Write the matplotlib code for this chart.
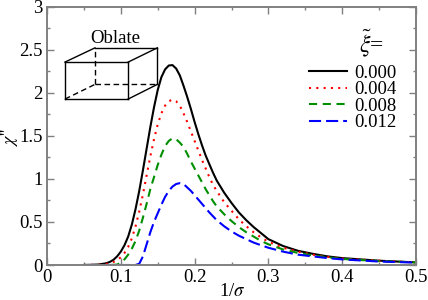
from matplotlib import pyplot as plt
from matplotlib.ticker import MultipleLocator

plt.rcParams["font.family"] = ["Liberation Serif", "DejaVu Serif"]
plt.rcParams["mathtext.fontset"] = "stix"

GREY = "#808080"

x_black = [.05, .06, .07, .08, .085, .09, .095, .10, .105, .11, .115, .12, .125, .13, .135, .14, .145, .15, .155, .16, .165, .17, .175, .18, .185, .19, .195, .20, .205, .21, .215, .22, .225, .23, .24, .25, .26, .27, .28, .29, .30, .32, .34, .36, .38, .40, .45, .50]
y_black = [0, .002, .006, .02, .035, .06, .10, .155, .23, .33, .47, .65, .86, 1.10, 1.35, 1.60, 1.83, 2.03, 2.18, 2.27, 2.315, 2.32, 2.28, 2.2, 2.08, 1.95, 1.81, 1.66, 1.52, 1.39, 1.27, 1.17, 1.07, .98, .84, .72, .61, .52, .44, .37, .30, .22, .165, .13, .10, .08, .05, .03]

x_red = [.05, .07, .08, .085, .09, .095, .10, .105, .11, .115, .12, .125, .13, .135, .14, .145, .15, .155, .16, .165, .17, .175, .18, .185, .19, .195, .20, .205, .21, .215, .22, .225, .23, .24, .25, .26, .27, .28, .29, .30, .32, .34, .36, .38, .40, .45, .50]
y_red = [0, .003, .012, .02, .035, .055, .09, .14, .21, .31, .45, .62, .82, 1.04, 1.26, 1.46, 1.63, 1.76, 1.85, 1.90, 1.92, 1.90, 1.85, 1.76, 1.66, 1.55, 1.44, 1.33, 1.22, 1.12, 1.02, .93, .86, .73, .63, .53, .45, .38, .32, .27, .20, .155, .12, .095, .075, .05, .03]

x_green = [.05, .08, .09, .095, .10, .105, .11, .115, .12, .125, .13, .135, .14, .145, .15, .155, .16, .165, .17, .175, .18, .185, .19, .195, .20, .205, .21, .215, .22, .225, .23, .24, .25, .26, .27, .28, .29, .30, .32, .34, .36, .38, .40, .45, .50]
y_green = [0, 0, .002, .005, .025, .065, .12, .19, .28, .40, .55, .71, .88, 1.02, 1.16, 1.28, 1.38, 1.44, 1.47, 1.46, 1.42, 1.37, 1.29, 1.20, 1.12, 1.04, .96, .88, .81, .74, .68, .59, .51, .44, .38, .33, .28, .24, .18, .14, .11, .09, .07, .045, .03]

x_blue = [.05, .12, .125, .13, .135, .14, .145, .15, .155, .16, .165, .17, .175, .18, .185, .19, .195, .20, .205, .21, .215, .22, .225, .23, .24, .25, .26, .27, .28, .29, .30, .32, .34, .36, .38, .40, .45, .50]
y_blue = [0, 0, .015, .10, .24, .38, .50, .60, .70, .79, .86, .91, .94, .95, .94, .90, .86, .81, .76, .71, .66, .61, .565, .52, .45, .39, .34, .30, .26, .23, .20, .155, .12, .10, .08, .065, .04, .028]

legend_labels = ["0.000", "0.004", "0.008", "0.012"]

fig = plt.figure(figsize=(4.28, 3.0), dpi=100)
ax = fig.add_axes([47 / 428, 1 - 265 / 300, 369 / 428, 258.5 / 300])

ax.plot(x_black, y_black, color="black", linewidth=1.5, label=legend_labels[0])
ax.plot(x_red, y_red, color="#ff0000", linewidth=1.5, linestyle=(0, (1, 2.5)), label=legend_labels[1])
ax.plot(x_green, y_green, color="#008f00", linewidth=1.5, linestyle=(0, (3.9, 2.7)), label=legend_labels[2])
ax.plot(x_blue, y_blue, color="#0000ff", linewidth=1.5, linestyle=(0, (5.8, 2.4)), label=legend_labels[3])

ax.set_xlim(0, 0.5)
ax.set_ylim(0, 3)
ax.xaxis.set_minor_locator(MultipleLocator(0.05))
ax.yaxis.set_minor_locator(MultipleLocator(0.25))
ax.set_xticks([0, .1, .2, .3, .4, .5])
ax.set_xticklabels(["0", "0.1", "0.2", "0.3", "0.4", "0.5"])
ax.set_yticks([0, .5, 1, 1.5, 2, 2.5, 3])
ax.set_yticklabels(["0", "0.5", "1", "1.5", "2", "2.5", "3"])
ax.tick_params(which="major", direction="in", top=True, right=True, length=5, width=1.0,
    color=GREY, labelsize=13.5, labelcolor="black", pad=3)
ax.tick_params(which="minor", direction="in", top=True, right=True, length=2.5, width=1.0, color=GREY)
for side in ax.spines.values():
    side.set_color(GREY)
    side.set_linewidth(1.4)

fig.text(232 / 428, 1 - 291 / 300, r"1/$\sigma$", fontsize=13.5, ha="center", va="center")
fig.text(10 / 428, 1 - 137 / 300, r"$\chi$''", fontsize=13, rotation=90, ha="center", va="center")

ax.legend(loc="upper left", bbox_to_anchor=(0.71, 0.775), frameon=False, fontsize=13.5,
    borderpad=0, borderaxespad=0, labelspacing=-0.03, handlelength=2.03, handletextpad=0.37)
ax.text(0.439, 2.575, r"$\tilde{\xi}$=", fontsize=17, ha="center", va="center")

# box sketch
ax.text(0.093, 2.63, "Oblate", fontsize=13.5, ha="center", va="center")
solid = [([.0244, .110], [2.355, 2.355]), ([.0244, .110], [1.926, 1.926]),
    ([.0244, .0244], [1.926, 2.355]), ([.110, .110], [1.926, 2.355]),
    ([.0244, .065], [2.355, 2.52]), ([.110, .1495], [2.355, 2.52]),
    ([.110, .1495], [1.926, 2.096]), ([.065, .1495], [2.52, 2.52]),
    ([.1495, .1495], [2.096, 2.52])]
dashed = [([.065, .065], [2.096, 2.52]), ([.065, .1495], [2.096, 2.096]),
    ([.0244, .065], [1.926, 2.096])]
for xs, ys in solid:
    ax.plot(xs, ys, color="black", linewidth=1.0)
for xs, ys in dashed:
    ax.plot(xs, ys, color="black", linewidth=1.0, linestyle=(0, (4, 2.5)))

fig.savefig("out.png", dpi=100)
